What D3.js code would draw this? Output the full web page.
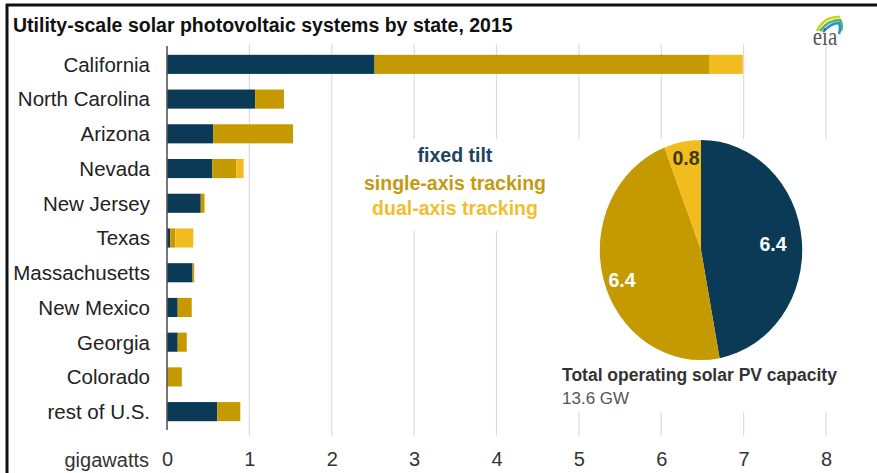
<!DOCTYPE html>
<html><head><meta charset="utf-8">
<script src="https://cdn.jsdelivr.net/npm/d3@7"></script>
<style>html,body{margin:0;padding:0;background:#fff;}svg{display:block;}</style>
</head><body>
<svg id="chart" width="877" height="473"></svg>
<script>
const states = ["California","North Carolina","Arizona","Nevada","New Jersey","Texas","Massachusetts","New Mexico","Georgia","Colorado","rest of U.S."];
const fixedTilt = [2.52,1.07,0.56,0.55,0.41,0.04,0.31,0.13,0.13,0.0,0.61];
const singleAxis = [4.06,0.35,0.97,0.29,0.04,0.06,0.02,0.17,0.11,0.18,0.28];
const dualAxis = [0.41,0.0,0.0,0.09,0.01,0.22,0.0,0.0,0.0,0.0,0.0];
const seriesNames = ["fixed tilt","single-axis tracking","dual-axis tracking"];
const seriesColors = ["#0b3a56","#c49a00","#f3bc1e"];
const legendColors = ["#1b4461","#c49a12","#f0be2e"];
const pieLabels = ["6.4","6.4","0.8"];
const pieValues = [6.4,6.4,0.8];
const xTicks = [0,1,2,3,4,5,6,7,8];
const titleText = "Utility-scale solar photovoltaic systems by state, 2015";
const captionTitle = "Total operating solar PV capacity";
const captionValue = "13.6 GW";
const unitLabel = "gigawatts";

const svg = d3.select("#chart");
const FONT = "'Liberation Sans', Arial, sans-serif";

const x = d3.scaleLinear().domain([0, 8]).range([167, 826]);
const y = d3.scaleBand().domain(states).range([47, 429]).paddingInner(0.45).paddingOuter(0.225);

// gridlines
svg.append("g").selectAll("line").data(xTicks.slice(1)).join("line")
  .attr("x1", d => x(d)).attr("x2", d => x(d))
  .attr("y1", 44).attr("y2", 436)
  .attr("stroke", "#dcdcdc").attr("stroke-width", 1.2);

// white panels masking gridlines (legend + pie)
svg.append("rect").attr("x", 352).attr("y", 139).attr("width", 205).attr("height", 92).attr("fill", "#fff");
svg.append("rect").attr("x", 558).attr("y", 139).attr("width", 290).attr("height", 273).attr("fill", "#fff");

// stacked bars
const rows = states.map((s, i) => ({state: s, v: [fixedTilt[i], singleAxis[i], dualAxis[i]]}));
const stacked = d3.stack().keys([0,1,2]).value((d, k) => d.v[k])(rows);
svg.append("g").selectAll("g").data(stacked).join("g")
  .attr("fill", (d, i) => seriesColors[i])
  .selectAll("rect").data(d => d).join("rect")
  .attr("x", d => x(d[0]))
  .attr("width", d => Math.max(0, x(d[1]) - x(d[0])))
  .attr("y", d => y(d.data.state))
  .attr("height", y.bandwidth());

// y axis line
svg.append("line").attr("x1", 167).attr("x2", 167).attr("y1", 46).attr("y2", 430)
  .attr("stroke", "#555").attr("stroke-width", 1.6);

// category labels
const yAxis = d3.axisLeft(y).tickSize(0).tickPadding(0);
const yg = svg.append("g").attr("transform", "translate(150,0)").call(yAxis);
yg.select(".domain").remove();
yg.selectAll("text").attr("font-family", FONT).attr("font-size", 20.5).attr("fill", "#222").attr("dy", "0.36em");

// x axis labels
const xAxis = d3.axisBottom(x).tickValues(xTicks).tickSize(0).tickPadding(0).tickFormat(d3.format("d"));
const xg = svg.append("g").attr("transform", "translate(0,452)").call(xAxis);
xg.select(".domain").remove();
xg.selectAll("text").attr("font-family", FONT).attr("font-size", 20).attr("fill", "#333").attr("dy", "0.71em");
svg.append("text").attr("x", 149).attr("y", 466.5).attr("text-anchor", "end")
  .attr("font-family", FONT).attr("font-size", 20).attr("fill", "#333").text(unitLabel);

// legend
const legY = [162, 190, 215];
svg.append("g").selectAll("text").data(seriesNames).join("text")
  .attr("x", 455).attr("y", (d, i) => legY[i]).attr("text-anchor", "middle")
  .attr("font-family", FONT).attr("font-weight", "bold").attr("font-size", 19.5)
  .attr("fill", (d, i) => legendColors[i]).text(d => d);

// pie
const cx = 701, cy = 250, R = 110;
const pie = d3.pie().sort(null).value(d => d)(pieValues);
const arc = d3.arc().innerRadius(0).outerRadius(R);
const pg = svg.append("g").attr("transform", `translate(${cx},${cy}) scale(0.92,1)`);
pg.selectAll("path").data(pie).join("path")
  .attr("d", arc).attr("fill", (d, i) => seriesColors[i]);
const labelPos = [[72, -6], [-79, 30], [-15, -92]];
const labelFill = ["#ffffff", "#ffffff", "#3d3a1c"];
svg.append("g").selectAll("text").data(pie).join("text")
  .attr("x", (d, i) => cx + labelPos[i][0]).attr("y", (d, i) => cy + labelPos[i][1])
  .attr("text-anchor", "middle").attr("dy", "0.36em")
  .attr("font-family", FONT).attr("font-weight", "bold").attr("font-size", 19.5)
  .attr("fill", (d, i) => labelFill[i]).text((d, i) => pieLabels[i]);

// caption
svg.append("text").attr("x", 562).attr("y", 381).attr("font-family", FONT).attr("font-weight", "bold")
  .attr("font-size", 17.5).attr("fill", "#333").text(captionTitle);
svg.append("text").attr("x", 562).attr("y", 404).attr("font-family", FONT)
  .attr("font-size", 17).attr("fill", "#555").text(captionValue);

// title
svg.append("text").attr("x", 13).attr("y", 32).attr("font-family", FONT).attr("font-weight", "bold")
  .attr("font-size", 19.5).attr("fill", "#111").text(titleText);

// eia logo
const logo = svg.append("g");
logo.append("path").attr("d", "M817,31 Q824,16 840,17").attr("fill", "none").attr("stroke", "#c9d41a").attr("stroke-width", 2.5);
logo.append("path").attr("d", "M820,31 Q828,20 840,20 Q843,25 841,31").attr("fill", "none").attr("stroke", "#4fb36a").attr("stroke-width", 2.5);
logo.append("path").attr("d", "M823,32 Q831,23 839,23 Q841,28 839,34").attr("fill", "none").attr("stroke", "#2a8fcf").attr("stroke-width", 2.5);
logo.append("text").attr("transform", "translate(825,45) scale(1,1.2)").attr("text-anchor", "middle")
  .attr("font-family", "'Liberation Serif', serif").attr("font-size", 21).attr("fill", "#555").text("eia");

// frame
svg.append("line").attr("x1", 7).attr("x2", 7).attr("y1", 4).attr("y2", 473).attr("stroke", "#111").attr("stroke-width", 3);
svg.append("line").attr("x1", 6).attr("x2", 877).attr("y1", 5).attr("y2", 5).attr("stroke", "#111").attr("stroke-width", 3);
</script>
</body></html>
